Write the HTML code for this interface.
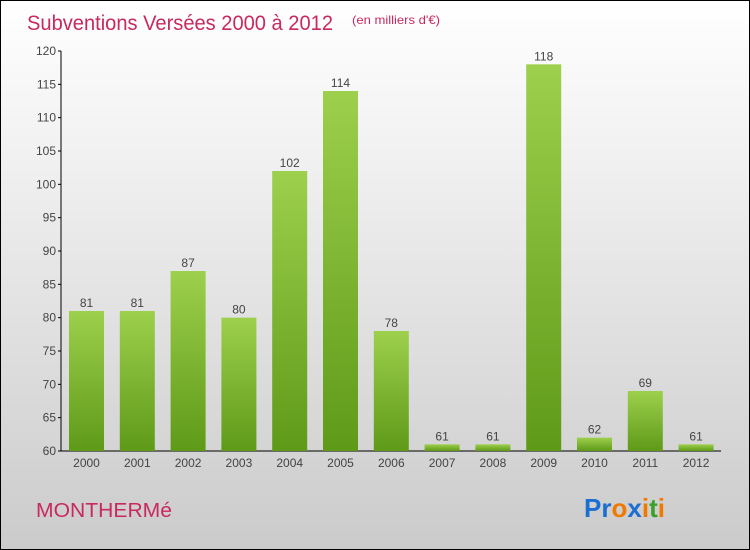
<!DOCTYPE html>
<html><head><meta charset="utf-8"><style>
body{margin:0}
#c{position:relative;width:748px;height:548px;border:1px solid #000;background:linear-gradient(#fff 0%,#f0f0f0 30%,#d8d8d8 75%,#cbcbcb 100%);font-family:"Liberation Sans",sans-serif;overflow:hidden}
</style></head><body>
<div id="c">
<svg width="748" height="548">
<defs><linearGradient id="g" x1="0" y1="0" x2="0" y2="1"><stop offset="0" stop-color="#9dd04c"/><stop offset="1" stop-color="#5e9a18"/></linearGradient></defs>
<text x="26" y="29" font-size="21" fill="#c8295e" textLength="306" lengthAdjust="spacingAndGlyphs">Subventions Versées 2000 à 2012</text>
<text x="351" y="23" font-size="12" fill="#c8295e" textLength="88" lengthAdjust="spacingAndGlyphs">(en milliers d'€)</text>
<g id="yaxis"></g>
<g id="bars"></g>
<text x="35" y="516" font-size="20" fill="#c8295e" textLength="136" lengthAdjust="spacingAndGlyphs">MONTHERMé</text>
<g font-size="26" font-weight="bold" font-family="'Liberation Sans',sans-serif">
<text x="583" y="516"><tspan fill="#1a6fd0">Pr</tspan><tspan fill="#f07a00">o</tspan><tspan fill="#1a6fd0">x</tspan><tspan fill="#f07a00">i</tspan><tspan fill="#3aa02a">t</tspan><tspan fill="#f07a00">i</tspan></text></g>
</svg></div>
<script>
const categories=["2000","2001","2002","2003","2004","2005","2006","2007","2008","2009","2010","2011","2012"];
const values=[81,81,87,80,102,114,78,61,61,118,62,69,61];
const yTicks=[60,65,70,75,80,85,90,95,100,105,110,115,120];
const NS="http://www.w3.org/2000/svg";
const y=v=>450-(v-60)*400/60;
const x=i=>85.5+i*50.8;
function mk(t,a,p){const e=document.createElementNS(NS,t);for(const k in a)e.setAttribute(k,a[k]);p.appendChild(e);return e;}
const ya=document.getElementById('yaxis'),bg=document.getElementById('bars');
const ax=mk('line',{x1:60,y1:50,x2:60,y2:450,stroke:'#000'},ya);


const bl=mk('line',{x1:60,y1:450,x2:720,y2:450,stroke:'#000'},ya);


yTicks.forEach(v=>{
 mk('line',{x1:57,y1:y(v),x2:60,y2:y(v),stroke:'#000'},ya);
 const t=mk('text',{x:55,y:y(v)+4,'font-size':12,'text-anchor':'end',fill:'#444'},ya);t.textContent=v;
 
 
});
categories.forEach((c,i)=>{
 const r=mk('rect',{x:x(i)-17.5,y:y(values[i]),width:35,height:450-y(values[i]),fill:'url(#g)'},bg);
 
 
 const l=mk('text',{x:x(i),y:y(values[i])-4,'font-size':12,'text-anchor':'middle',fill:'#444'},bg);l.textContent=values[i];
 
 
 const xl=mk('text',{x:x(i),y:466,'font-size':12,'text-anchor':'middle',fill:'#444'},bg);xl.textContent=c;
 
 
});
</script></body></html>
